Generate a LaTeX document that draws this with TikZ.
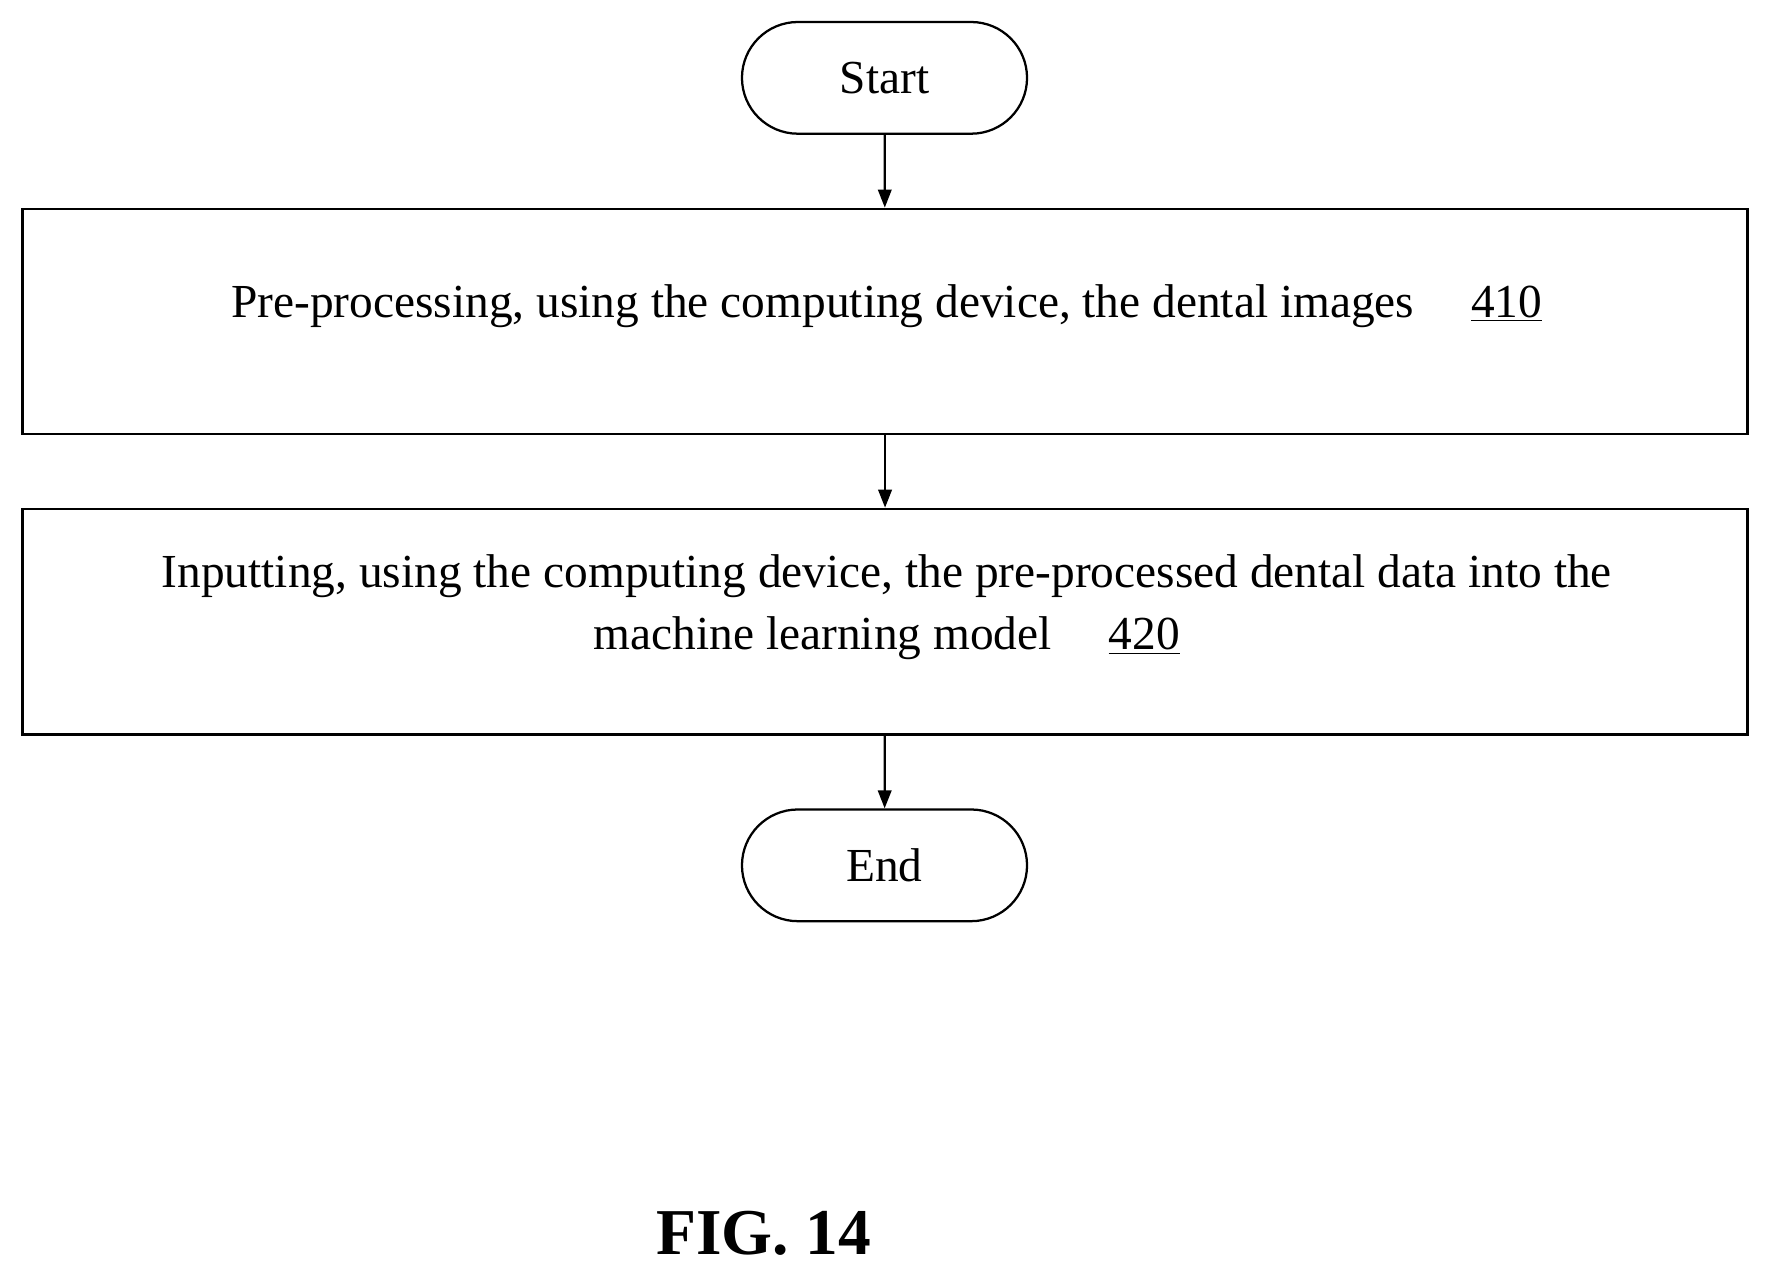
\documentclass[tikz,border=0pt]{standalone}
\usepackage{fontspec}
\setmainfont{Liberation Serif}
\usetikzlibrary{shapes.misc,arrows.meta}
\begin{document}
\begin{tikzpicture}[x=0.5pt,y=-0.5pt,
  term/.style={draw,line width=1pt,rounded rectangle,minimum width=133pt,minimum height=49.5pt,font=\fontsize{21}{26}\selectfont},
  box/.style={draw,line width=1pt,minimum width=764.5pt,minimum height=100pt},
  txt/.style={font=\fontsize{21}{27.5}\selectfont,align=center},
  arr/.style={-{Triangle[length=8pt,width=6pt]},line width=1pt}]
\useasboundingbox (0,0) rectangle (1568,1131);
\node[term] (s) at (784,69) {Start};
\node[box] (b1) at (784.5,285) {};
\node[txt] (t1) at (786,271) {Pre-processing, using the computing device, the dental images\hspace{1.2em}\underline{410}};
\node[box] (b2) at (784.5,551) {};
\node[txt] (t2) at (786,538) {Inputting, using the computing device, the pre-processed dental data into the\\machine learning model\hspace{1.2em}\underline{420}};
\node[term] (e) at (784,767) {End};
\node[font=\fontsize{29}{34}\selectfont\bfseries] (f) at (677,1093) {FIG. 14};
\draw[arr] (s) -- (b1);
\draw[arr] (b1) -- (b2);
\draw[arr] (b2) -- (e);
\end{tikzpicture}
\end{document}
